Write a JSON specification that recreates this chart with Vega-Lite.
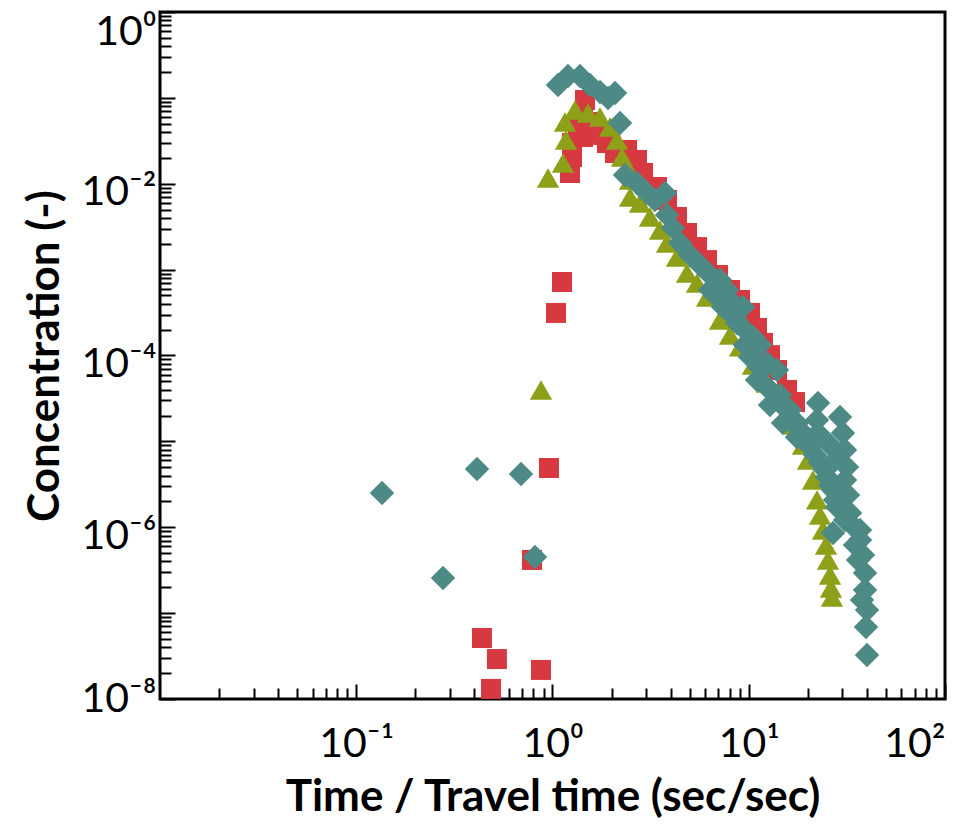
{
  "$schema": "https://vega.github.io/schema/vega-lite/v6.json",
  "width": 785,
  "height": 687,
  "autosize": "none",
  "padding": {"left": 160, "top": 12, "right": 14, "bottom": 134},
  "background": "white",
  "config": {
    "view": {"stroke": "black", "strokeWidth": 3},
    "axis": {
      "domain": false,
      "grid": false,
      "tickColor": "black",
      "tickWidth": 2,
      "labelColor": "black",
      "labelFont": "Lato",
      "labelFontSize": 41,
      "titleColor": "black",
      "titleFont": "Lato",
      "titleFontWeight": "bold",
      "titleFontSize": 44
    }
  },
  "data": {
    "values": [
      {"series": "Case 1", "time": 1.228, "conc": 0.01334},
      {"series": "Case 1", "time": 1.257, "conc": 0.0205},
      {"series": "Case 1", "time": 1.257, "conc": 0.0298},
      {"series": "Case 1", "time": 1.349, "conc": 0.0483},
      {"series": "Case 1", "time": 1.43, "conc": 0.035},
      {"series": "Case 1", "time": 1.464, "conc": 0.0945},
      {"series": "Case 1", "time": 1.43, "conc": 0.0632},
      {"series": "Case 1", "time": 1.59, "conc": 0.0524},
      {"series": "Case 1", "time": 1.686, "conc": 0.037},
      {"series": "Case 1", "time": 1.895, "conc": 0.0298},
      {"series": "Case 1", "time": 2.082, "conc": 0.0228},
      {"series": "Case 1", "time": 2.397, "conc": 0.0247},
      {"series": "Case 1", "time": 2.696, "conc": 0.0189},
      {"series": "Case 1", "time": 2.892, "conc": 0.01334},
      {"series": "Case 1", "time": 3.408, "conc": 0.00917},
      {"series": "Case 1", "time": 3.832, "conc": 0.00647},
      {"series": "Case 1", "time": 4.309, "conc": 0.0041},
      {"series": "Case 1", "time": 4.847, "conc": 0.00267},
      {"series": "Case 1", "time": 5.449, "conc": 0.00183},
      {"series": "Case 1", "time": 6.128, "conc": 0.00129},
      {"series": "Case 1", "time": 6.971, "conc": 0.000866},
      {"series": "Case 1", "time": 8.025, "conc": 0.000579},
      {"series": "Case 1", "time": 9.024, "conc": 0.000443},
      {"series": "Case 1", "time": 10.15, "conc": 0.000313},
      {"series": "Case 1", "time": 11.02, "conc": 0.000209},
      {"series": "Case 1", "time": 11.82, "conc": 0.00014},
      {"series": "Case 1", "time": 12.83, "conc": 0.000101},
      {"series": "Case 1", "time": 13.93, "conc": 0.0000678},
      {"series": "Case 1", "time": 15.66, "conc": 0.0000397},
      {"series": "Case 1", "time": 17.21, "conc": 0.0000287},
      {"series": "Case 1", "time": 1.118, "conc": 0.000718},
      {"series": "Case 1", "time": 1.042, "conc": 0.000313},
      {"series": "Case 1", "time": 0.96, "conc": 0.0000049},
      {"series": "Case 1", "time": 0.786, "conc": 4.16e-7},
      {"series": "Case 1", "time": 0.437, "conc": 5.13e-8},
      {"series": "Case 1", "time": 0.521, "conc": 2.92e-8},
      {"series": "Case 1", "time": 0.874, "conc": 2.18e-8},
      {"series": "Case 1", "time": 0.486, "conc": 1.31e-8},

      {"series": "Case 2", "time": 0.874, "conc": 0.0000397},
      {"series": "Case 2", "time": 0.949, "conc": 0.01167},
      {"series": "Case 2", "time": 1.131, "conc": 0.01745},
      {"series": "Case 2", "time": 1.172, "conc": 0.0323},
      {"series": "Case 2", "time": 1.158, "conc": 0.0524},
      {"series": "Case 2", "time": 1.302, "conc": 0.0722},
      {"series": "Case 2", "time": 1.517, "conc": 0.0667},
      {"series": "Case 2", "time": 1.746, "conc": 0.0599},
      {"series": "Case 2", "time": 1.963, "conc": 0.0458},
      {"series": "Case 2", "time": 2.132, "conc": 0.0323},
      {"series": "Case 2", "time": 2.261, "conc": 0.0205},
      {"series": "Case 2", "time": 2.397, "conc": 0.01567},
      {"series": "Case 2", "time": 2.483, "conc": 0.01106},
      {"series": "Case 2", "time": 2.483, "conc": 0.00701},
      {"series": "Case 2", "time": 2.792, "conc": 0.00597},
      {"series": "Case 2", "time": 3.139, "conc": 0.0041},
      {"series": "Case 2", "time": 3.53, "conc": 0.00289},
      {"series": "Case 2", "time": 3.832, "conc": 0.00204},
      {"series": "Case 2", "time": 4.309, "conc": 0.0014},
      {"series": "Case 2", "time": 4.847, "conc": 0.000914},
      {"series": "Case 2", "time": 5.449, "conc": 0.000699},
      {"series": "Case 2", "time": 6.128, "conc": 0.00048},
      {"series": "Case 2", "time": 7.137, "conc": 0.000259},
      {"series": "Case 2", "time": 8.025, "conc": 0.000173},
      {"series": "Case 2", "time": 9.024, "conc": 0.000126},
      {"series": "Case 2", "time": 10.51, "conc": 0.0000775},
      {"series": "Case 2", "time": 12.39, "conc": 0.0000478},
      {"series": "Case 2", "time": 13.93, "conc": 0.0000303},
      {"series": "Case 2", "time": 15.66, "conc": 0.000022},
      {"series": "Case 2", "time": 17.21, "conc": 0.0000155},
      {"series": "Case 2", "time": 18.9, "conc": 0.00000907},
      {"series": "Case 2", "time": 20.04, "conc": 0.00000607},
      {"series": "Case 2", "time": 21.26, "conc": 0.00000355},
      {"series": "Case 2", "time": 22.28, "conc": 0.00000208},
      {"series": "Case 2", "time": 23.08, "conc": 0.00000139},
      {"series": "Case 2", "time": 23.9, "conc": 9.29e-7},
      {"series": "Case 2", "time": 24.75, "conc": 6.21e-7},
      {"series": "Case 2", "time": 25.34, "conc": 4.16e-7},
      {"series": "Case 2", "time": 25.94, "conc": 2.78e-7},
      {"series": "Case 2", "time": 26.24, "conc": 1.96e-7},
      {"series": "Case 2", "time": 26.55, "conc": 1.54e-7},

      {"series": "Case 3", "time": 0.1353, "conc": 0.00000251},
      {"series": "Case 3", "time": 0.2767, "conc": 2.56e-7},
      {"series": "Case 3", "time": 0.4124, "conc": 0.00000477},
      {"series": "Case 3", "time": 0.691, "conc": 0.00000417},
      {"series": "Case 3", "time": 0.814, "conc": 4.5e-7},
      {"series": "Case 3", "time": 1.067, "conc": 0.1412},
      {"series": "Case 3", "time": 1.199, "conc": 0.1798},
      {"series": "Case 3", "time": 1.381, "conc": 0.1798},
      {"series": "Case 3", "time": 1.553, "conc": 0.1412},
      {"series": "Case 3", "time": 1.746, "conc": 0.1171},
      {"series": "Case 3", "time": 1.918, "conc": 0.0997},
      {"series": "Case 3", "time": 2.082, "conc": 0.114},
      {"series": "Case 3", "time": 2.208, "conc": 0.051},
      {"series": "Case 3", "time": 2.341, "conc": 0.01264},
      {"series": "Case 3", "time": 2.696, "conc": 0.0102},
      {"series": "Case 3", "time": 3.03, "conc": 0.0078},
      {"series": "Case 3", "time": 3.329, "conc": 0.00647},
      {"series": "Case 3", "time": 3.743, "conc": 0.0078},
      {"series": "Case 3", "time": 3.832, "conc": 0.00433},
      {"series": "Case 3", "time": 4.111, "conc": 0.00305},
      {"series": "Case 3", "time": 4.464, "conc": 0.00204},
      {"series": "Case 3", "time": 5.02, "conc": 0.00148},
      {"series": "Case 3", "time": 5.644, "conc": 0.00113},
      {"series": "Case 3", "time": 6.346, "conc": 0.000866},
      {"series": "Case 3", "time": 7.137, "conc": 0.000757},
      {"series": "Case 3", "time": 6.346, "conc": 0.000579},
      {"series": "Case 3", "time": 6.73, "conc": 0.000506},
      {"series": "Case 3", "time": 7.75, "conc": 0.000579},
      {"series": "Case 3", "time": 7.393, "conc": 0.000367},
      {"series": "Case 3", "time": 8.311, "conc": 0.000409},
      {"series": "Case 3", "time": 9.348, "conc": 0.000367},
      {"series": "Case 3", "time": 8.51, "conc": 0.000273},
      {"series": "Case 3", "time": 8.712, "conc": 0.000239},
      {"series": "Case 3", "time": 9.57, "conc": 0.000198},
      {"series": "Case 3", "time": 10.51, "conc": 0.000164},
      {"series": "Case 3", "time": 9.57, "conc": 0.0001326},
      {"series": "Case 3", "time": 11.41, "conc": 0.0001326},
      {"series": "Case 3", "time": 10.15, "conc": 0.0000961},
      {"series": "Case 3", "time": 12.39, "conc": 0.0000818},
      {"series": "Case 3", "time": 13.93, "conc": 0.0000678},
      {"series": "Case 3", "time": 11.41, "conc": 0.0000715},
      {"series": "Case 3", "time": 11.02, "conc": 0.0000519},
      {"series": "Case 3", "time": 12.1, "conc": 0.0000453},
      {"series": "Case 3", "time": 13.29, "conc": 0.0000366},
      {"series": "Case 3", "time": 14.43, "conc": 0.0000347},
      {"series": "Case 3", "time": 12.83, "conc": 0.0000265},
      {"series": "Case 3", "time": 15.66, "conc": 0.0000232},
      {"series": "Case 3", "time": 16.23, "conc": 0.0000232},
      {"series": "Case 3", "time": 14.95, "conc": 0.0000164},
      {"series": "Case 3", "time": 17.62, "conc": 0.0000164},
      {"series": "Case 3", "time": 17.62, "conc": 0.0000112},
      {"series": "Case 3", "time": 18.24, "conc": 0.0000136},
      {"series": "Case 3", "time": 19.35, "conc": 0.0000104},
      {"series": "Case 3", "time": 20.52, "conc": 0.0000086},
      {"series": "Case 3", "time": 21.76, "conc": 0.00000694},
      {"series": "Case 3", "time": 23.08, "conc": 0.0000056},
      {"series": "Case 3", "time": 24.46, "conc": 0.00000464},
      {"series": "Case 3", "time": 25.04, "conc": 0.00000385},
      {"series": "Case 3", "time": 25.94, "conc": 0.0000031},
      {"series": "Case 3", "time": 26.87, "conc": 0.00000272},
      {"series": "Case 3", "time": 27.52, "conc": 0.00000208},
      {"series": "Case 3", "time": 28.16, "conc": 0.00000172},
      {"series": "Case 3", "time": 26.87, "conc": 8.57e-7},
      {"series": "Case 3", "time": 22.54, "conc": 0.000028},
      {"series": "Case 3", "time": 22.28, "conc": 0.0000177},
      {"series": "Case 3", "time": 22.54, "conc": 0.0000125},
      {"series": "Case 3", "time": 25.94, "conc": 0.00000907},
      {"series": "Case 3", "time": 27.52, "conc": 0.00000607},
      {"series": "Case 3", "time": 29.17, "conc": 0.0000192},
      {"series": "Case 3", "time": 30.21, "conc": 0.0000125},
      {"series": "Case 3", "time": 30.93, "conc": 0.00000793},
      {"series": "Case 3", "time": 31.67, "conc": 0.00000503},
      {"series": "Case 3", "time": 30.93, "conc": 0.00000355},
      {"series": "Case 3", "time": 32.04, "conc": 0.00000237},
      {"series": "Case 3", "time": 29.17, "conc": 0.00000172},
      {"series": "Case 3", "time": 32.81, "conc": 0.00000147},
      {"series": "Case 3", "time": 30.93, "conc": 0.000001215},
      {"series": "Case 3", "time": 33.58, "conc": 0.000001062},
      {"series": "Case 3", "time": 36.89, "conc": 9.29e-7},
      {"series": "Case 3", "time": 36.89, "conc": 7.1e-7},
      {"series": "Case 3", "time": 34.78, "conc": 6.21e-7},
      {"series": "Case 3", "time": 38.21, "conc": 4.75e-7},
      {"series": "Case 3", "time": 36.03, "conc": 4.16e-7},
      {"series": "Case 3", "time": 39.12, "conc": 2.93e-7},
      {"series": "Case 3", "time": 39.12, "conc": 1.86e-7},
      {"series": "Case 3", "time": 37.77, "conc": 1.42e-7},
      {"series": "Case 3", "time": 40.05, "conc": 1.09e-7},
      {"series": "Case 3", "time": 39.58, "conc": 6.89e-8},
      {"series": "Case 3", "time": 40.05, "conc": 3.25e-8}
    ]
  },
  "mark": {"type": "point", "filled": true, "opacity": 1, "strokeWidth": 0},
  "encoding": {
    "x": {
      "field": "time",
      "type": "quantitative",
      "scale": {"type": "log", "domain": [0.01, 100], "nice": false},
      "axis": {
        "title": "Time / Travel time (sec/sec)",
        "titlePadding": 7,
        "values": [0.02,0.03,0.04,0.05,0.06,0.07,0.08,0.09,0.1,0.2,0.3,0.4,0.5,0.6,0.7,0.8,0.9,1,2,3,4,5,6,7,8,9,10,20,30,40,50,60,70,80,90,100],
        "labelExpr": "datum.value == 0.1 ? '10⁻¹' : datum.value == 1 ? '10⁰' : datum.value == 10 ? '10¹' : datum.value == 100 ? '10²' : ''",
        "tickSize": {"condition": {"test": "abs(log(datum.value)/LN10 - round(log(datum.value)/LN10)) < 0.000001", "value": -15}, "value": -11},
        "labelAlign": {"condition": {"test": "datum.value == 100", "value": "right"}, "value": "center"},
        "labelPadding": 40,
        "labelFlush": false,
        "labelOverlap": false
      }
    },
    "y": {
      "field": "conc",
      "type": "quantitative",
      "scale": {"type": "log", "domain": [1e-8, 1], "nice": false},
      "axis": {
        "title": "Concentration (-)",
        "titlePadding": 14,
        "values": [1e-8,2e-8,3e-8,4e-8,5e-8,6e-8,7e-8,8e-8,9e-8,1e-7,2e-7,3e-7,4e-7,5e-7,6e-7,7e-7,8e-7,9e-7,1e-6,2e-6,3e-6,4e-6,5e-6,6e-6,7e-6,8e-6,9e-6,1e-5,2e-5,3e-5,4e-5,5e-5,6e-5,7e-5,8e-5,9e-5,1e-4,2e-4,3e-4,4e-4,5e-4,6e-4,7e-4,8e-4,9e-4,1e-3,2e-3,3e-3,4e-3,5e-3,6e-3,7e-3,8e-3,9e-3,1e-2,2e-2,3e-2,4e-2,5e-2,6e-2,7e-2,8e-2,9e-2,0.1,0.2,0.3,0.4,0.5,0.6,0.7,0.8,0.9,1],
        "labelExpr": "datum.value == 1 ? '10⁰' : datum.value == 0.01 ? '10⁻²' : datum.value == 0.0001 ? '10⁻⁴' : datum.value == 1e-6 ? '10⁻⁶' : datum.value == 1e-8 ? '10⁻⁸' : ''",
        "tickSize": {"condition": {"test": "abs(log(datum.value)/LN10 - round(log(datum.value)/LN10)) < 0.000001", "value": -15}, "value": -11},
        "labelBaseline": "middle",
        "labelOffset": {"condition": [{"test": "datum.value == 1", "value": 20}, {"test": "datum.value == 1e-8", "value": 0}], "value": 9},
        "labelPadding": 19,
        "labelFlush": false,
        "labelOverlap": false
      }
    },
    "shape": {"field": "series", "type": "nominal", "scale": {"domain": ["Case 1", "Case 2", "Case 3"], "range": ["square", "triangle-up", "diamond"]}, "legend": null},
    "color": {"field": "series", "type": "nominal", "scale": {"domain": ["Case 1", "Case 2", "Case 3"], "range": ["#D63A40", "#8E9F18", "#4D8A86"]}, "legend": null},
    "size": {"field": "series", "type": "ordinal", "scale": {"domain": ["Case 1", "Case 2", "Case 3"], "range": [400, 600, 400]}, "legend": null}
  }
}
